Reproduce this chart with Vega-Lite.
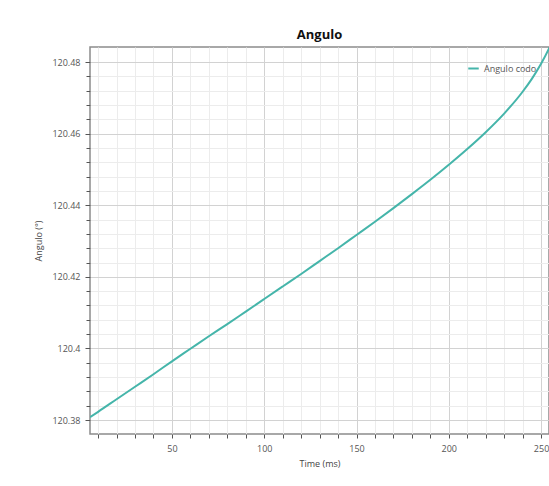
{
  "$schema": "https://vega.github.io/schema/vega-lite/v6.json",
  "width": 459,
  "height": 387,
  "autosize": "none",
  "padding": {"left": 90, "top": 47, "right": 0, "bottom": 52},
  "background": "white",
  "config": {
    "font": "Open Sans",
    "view": {"stroke": "#8c8c8c", "strokeWidth": 1.5},
    "axis": {"labelFont": "Open Sans", "titleFont": "Open Sans"}
  },
  "title": {"text": "Angulo", "fontSize": 13, "fontWeight": "bold", "font": "Open Sans", "color": "#111", "offset": 5, "anchor": "middle"},
  "data": {"values": [
    {"t": 5.6, "v": 120.3808, "series": "Angulo codo"},
    {"t": 10, "v": 120.3823, "series": "Angulo codo"},
    {"t": 20, "v": 120.3858, "series": "Angulo codo"},
    {"t": 30, "v": 120.3893, "series": "Angulo codo"},
    {"t": 40, "v": 120.3928, "series": "Angulo codo"},
    {"t": 50, "v": 120.3964, "series": "Angulo codo"},
    {"t": 60, "v": 120.3999, "series": "Angulo codo"},
    {"t": 70, "v": 120.4034, "series": "Angulo codo"},
    {"t": 80, "v": 120.4068, "series": "Angulo codo"},
    {"t": 90, "v": 120.4103, "series": "Angulo codo"},
    {"t": 100, "v": 120.4138, "series": "Angulo codo"},
    {"t": 110, "v": 120.4173, "series": "Angulo codo"},
    {"t": 120, "v": 120.4208, "series": "Angulo codo"},
    {"t": 130, "v": 120.4244, "series": "Angulo codo"},
    {"t": 140, "v": 120.4280, "series": "Angulo codo"},
    {"t": 150, "v": 120.4317, "series": "Angulo codo"},
    {"t": 160, "v": 120.4354, "series": "Angulo codo"},
    {"t": 170, "v": 120.4392, "series": "Angulo codo"},
    {"t": 180, "v": 120.4431, "series": "Angulo codo"},
    {"t": 190, "v": 120.4471, "series": "Angulo codo"},
    {"t": 200, "v": 120.4513, "series": "Angulo codo"},
    {"t": 210, "v": 120.4557, "series": "Angulo codo"},
    {"t": 220, "v": 120.4604, "series": "Angulo codo"},
    {"t": 230, "v": 120.4656, "series": "Angulo codo"},
    {"t": 240, "v": 120.4717, "series": "Angulo codo"},
    {"t": 245, "v": 120.4753, "series": "Angulo codo"},
    {"t": 250, "v": 120.4795, "series": "Angulo codo"},
    {"t": 255, "v": 120.4845, "series": "Angulo codo"},
    {"t": 258, "v": 120.4878, "series": "Angulo codo"}
  ]},
  "resolve": {"axis": {"x": "independent", "y": "independent"}},
  "layer": [
    {
      "mark": {"type": "line", "strokeOpacity": 0, "clip": true},
      "encoding": {
        "x": {"field": "t", "type": "quantitative", "scale": {"domain": [5.6, 254.3], "nice": false, "zero": false},
          "axis": {"orient": "bottom", "values": [10,20,30,40,60,70,80,90,110,120,130,140,160,170,180,190,210,220,230,240], "labels": false, "title": null, "domain": false, "grid": true, "gridColor": "#ececec", "gridWidth": 1, "ticks": true, "tickSize": 4, "tickColor": "#555", "tickWidth": 1}},
        "y": {"field": "v", "type": "quantitative", "scale": {"domain": [120.3761, 120.4842], "nice": false, "zero": false},
          "axis": {"orient": "left", "values": [120.384,120.388,120.392,120.396,120.404,120.408,120.412,120.416,120.424,120.428,120.432,120.436,120.444,120.448,120.452,120.456,120.464,120.468,120.472,120.476], "labels": false, "title": null, "domain": false, "grid": true, "gridColor": "#ececec", "gridWidth": 1, "ticks": true, "tickSize": 4, "tickColor": "#555", "tickWidth": 1}}
      }
    },
    {
      "mark": {"type": "line", "strokeWidth": 2, "clip": true, "interpolate": "monotone"},
      "encoding": {
        "x": {"field": "t", "type": "quantitative", "scale": {"domain": [5.6, 254.3], "nice": false, "zero": false},
          "axis": {"orient": "bottom", "values": [50, 100, 150, 200, 250], "title": "Time (ms)", "titleFontSize": 9, "titleFontWeight": "normal", "titleColor": "#444", "titlePadding": 6, "labelFontSize": 9, "labelColor": "#555", "labelPadding": 6, "domain": false, "grid": true, "gridColor": "#d2d2d2", "gridWidth": 1, "ticks": true, "tickSize": 4, "tickColor": "#555"}},
        "y": {"field": "v", "type": "quantitative", "scale": {"domain": [120.3761, 120.4842], "nice": false, "zero": false},
          "axis": {"orient": "left", "values": [120.38, 120.40, 120.42, 120.44, 120.46, 120.48], "format": ".2~f", "title": "Angulo (°)", "titleFontSize": 9, "titleFontWeight": "normal", "titleColor": "#444", "titlePadding": 8, "labelFontSize": 9, "labelColor": "#555", "labelPadding": 5, "domain": false, "grid": true, "gridColor": "#d2d2d2", "gridWidth": 1, "ticks": true, "tickSize": 5, "tickColor": "#555"}},
        "color": {"field": "series", "type": "nominal", "scale": {"range": ["#45b5aa"]},
          "legend": {"orient": "none", "legendX": 377, "legendY": 15, "title": null, "symbolType": "stroke", "symbolSize": 110, "symbolStrokeWidth": 2, "labelFontSize": 9, "labelColor": "#555", "labelFont": "Open Sans", "padding": 0}}
      }
    }
  ]
}
